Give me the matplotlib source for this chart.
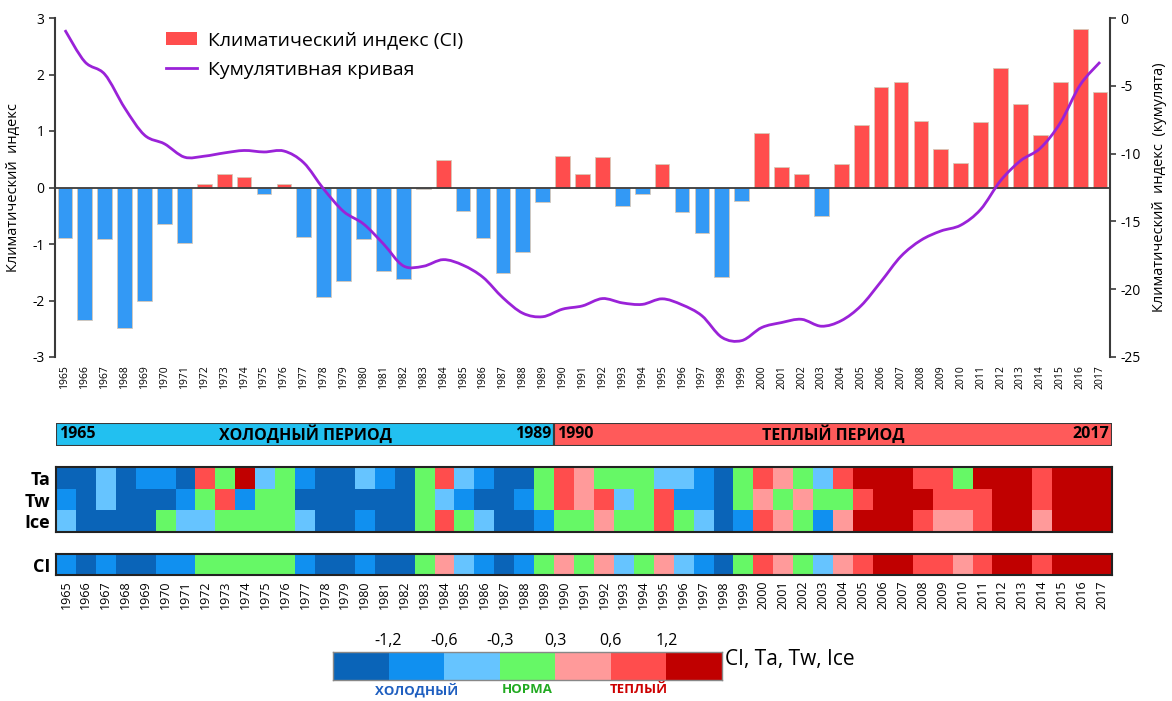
import matplotlib
matplotlib.use("Agg")
import matplotlib.pyplot as plt
import numpy as np
from matplotlib.colors import ListedColormap, BoundaryNorm
from matplotlib.lines import Line2D
from matplotlib.patches import Patch, PathPatch
from matplotlib.path import Path

plt.rcParams['font.family'] = ['Open Sans', 'DejaVu Sans']
plt.rcParams['axes.unicode_minus'] = False

years = list(range(1965, 2018))

# climate index per year
ci = [-0.89, -2.34, -0.92, -2.48, -2.01, -0.64, -0.98, 0.07, 0.24, 0.18,
      -0.11, 0.07, -0.87, -1.94, -1.65, -0.92, -1.47, -1.62, -0.03, 0.49,
      -0.41, -0.89, -1.51, -1.14, -0.26, 0.56, 0.24, 0.54, -0.32, -0.11,
      0.41, -0.44, -0.81, -1.59, -0.24, 0.96, 0.37, 0.24, -0.51, 0.41,
      1.11, 1.78, 1.86, 1.18, 0.68, 0.43, 1.16, 2.12, 1.47, 0.93,
      1.86, 2.80, 1.69]

# cumulative curve (right axis)
cumul = [-0.89, -3.23, -4.15, -6.63, -8.64, -9.28, -10.26, -10.19, -9.95, -9.77,
         -9.88, -9.81, -10.68, -12.62, -14.27, -15.19, -16.66, -18.28, -18.31, -17.82,
         -18.23, -19.12, -20.63, -21.77, -22.03, -21.47, -21.23, -20.69, -21.01, -21.12,
         -20.71, -21.15, -21.96, -23.55, -23.79, -22.83, -22.46, -22.22, -22.73, -22.32,
         -21.21, -19.43, -17.57, -16.39, -15.71, -15.28, -14.12, -12.00, -10.53, -9.60,
         -7.74, -4.94, -3.25]

# class per year: 0..2 cold, 3 normal, 4..6 warm
ta = [0, 0, 2, 0, 1, 1, 0, 5, 3, 6, 2, 3, 1, 0, 0, 2, 1,
      0, 3, 5, 2, 1, 0, 0, 3, 5, 4, 3, 3, 3, 2, 2, 1, 0, 3, 5, 4,
      3, 2, 5, 6, 6, 6, 5, 5, 3, 6, 6, 6, 5, 6, 6, 6]
tw = [1, 0, 2, 0, 0, 0, 1, 3, 5, 1, 3, 3, 0, 0, 0, 0, 0,
      0, 3, 2, 1, 0, 0, 1, 3, 5, 4, 5, 2, 3, 5, 1, 1, 0, 3, 4, 3,
      4, 3, 3, 5, 6, 6, 6, 5, 5, 5, 6, 6, 5, 6, 6, 6]
ice = [2, 0, 0, 0, 0, 3, 2, 2, 3, 3, 3, 3, 2, 0, 0, 1, 0,
       0, 3, 5, 3, 2, 0, 0, 1, 3, 3, 4, 3, 3, 5, 3, 2, 0, 1, 5, 4,
       3, 1, 4, 6, 6, 6, 5, 4, 4, 5, 6, 6, 4, 6, 6, 6]
ci_class = [1, 0, 1, 0, 0, 1, 1, 3, 3, 3, 3, 3, 1, 0, 0, 1, 0,
            0, 3, 4, 2, 1, 0, 1, 3, 4, 3, 4, 2, 3, 4, 2, 1, 0, 3, 5, 4,
            3, 2, 4, 5, 6, 6, 5, 5, 4, 5, 6, 6, 5, 6, 6, 6]

class_colors = ['#0A64B8', '#1090F0', '#66C4FF', '#66F866', '#FF9A9A', '#FF4D4D', '#C00000']
bound_labels = ['-1,2', '-0,6', '-0,3', '0,3', '0,6', '1,2']
class_names = [('ХОЛОДНЫЙ', 1.5, '#1F5FC0'), ('НОРМА', 3.5, '#22AA22'), ('ТЕПЛЫЙ', 5.5, '#CC0000')]

periods = [(1965, 1989, 'ХОЛОДНЫЙ ПЕРИОД', '#22C0F0'),
           (1990, 2017, 'ТЕПЛЫЙ ПЕРИОД', '#FF5A5A')]

RED = '#FF4D4D'
BLUE = '#3399F5'
PURPLE = '#9A22D8'
DARK = '#3a3a3a'

W, H = 1172, 701


def box(x0, y0, x1, y1):
    return [x0 / W, 1 - y1 / H, (x1 - x0) / W, (y1 - y0) / H]


def smooth_path(xs, ys):
    # Catmull-Rom through the points, written as cubic Bezier segments
    n = len(xs)
    verts = [(xs[0], ys[0])]
    codes = [Path.MOVETO]
    for i in range(n - 1):
        a = max(i - 1, 0)
        d = min(i + 2, n - 1)
        c1 = (xs[i] + (xs[i + 1] - xs[a]) / 6, ys[i] + (ys[i + 1] - ys[a]) / 6)
        c2 = (xs[i + 1] - (xs[d] - xs[i]) / 6, ys[i + 1] - (ys[d] - ys[i]) / 6)
        verts += [c1, c2, (xs[i + 1], ys[i + 1])]
        codes += [Path.CURVE4] * 3
    return Path(verts, codes)


x = np.arange(len(years))
cmap = ListedColormap(class_colors)
norm = BoundaryNorm(np.arange(-0.5, 7.5), cmap.N)

fig = plt.figure(figsize=(11.72, 7.01), dpi=100)

# --- bar chart with cumulative curve ---
ax = fig.add_axes(box(55, 18, 1110, 357))
ax.bar(x, ci, width=0.74, color=[RED if v >= 0 else BLUE for v in ci],
       edgecolor='#d8c8b8', linewidth=0.6)
ax.axhline(0, color=DARK, lw=1.3, zorder=3)
ax.set_xlim(-0.5, len(years) - 0.5)
ax.set_ylim(-3, 3)
ax.set_yticks(range(-3, 4))
ax.set_xticks(x)
ax.set_xticklabels(years, rotation=90, fontsize=7.5)
ax.tick_params(axis='x', length=0, pad=6)
ax.tick_params(axis='y', direction='out', length=4, width=1.2, color=DARK, labelsize=10)
for s in ['top', 'right', 'bottom']:
    ax.spines[s].set_visible(False)
ax.spines['left'].set_color(DARK)
ax.spines['left'].set_linewidth(1.5)
ax.set_ylabel('Климатический  индекс', fontsize=10.5, labelpad=8)

ax2 = ax.twinx()
ax2.set_ylim(-25, 0)
ax2.set_yticks(range(-25, 1, 5))
ax2.add_patch(PathPatch(smooth_path(x, cumul), fill=False, edgecolor=PURPLE, lw=2, zorder=4))
for s in ['top', 'left', 'bottom']:
    ax2.spines[s].set_visible(False)
ax2.spines['right'].set_color(DARK)
ax2.spines['right'].set_linewidth(1.5)
ax2.tick_params(axis='y', direction='out', length=4, width=1.2, color=DARK, labelsize=10)
ax2.set_ylabel('Климатический  индекс  (кумулята)', fontsize=10.5, labelpad=8)

fig.legend(handles=[Patch(facecolor=RED, edgecolor='none'),
                    Line2D([], [], color=PURPLE, lw=2)],
           labels=['Климатический индекс (CI)', 'Кумулятивная кривая'],
           loc='upper left', bbox_to_anchor=(148 / W, 1 - 14 / H), frameon=False,
           fontsize=14, handlelength=1.6, handleheight=0.7, labelspacing=0.6,
           handletextpad=0.6)

# --- period strip ---
px = fig.add_axes(box(56, 423, 1112, 446))
for start, end, name, col in periods:
    left = years.index(start) - 0.5
    width = end - start + 1
    px.barh(0, width, left=left, height=1, color=col, edgecolor=DARK, linewidth=1.5)
    px.text(left + 0.15, 0, str(start), ha='left', va='center', fontsize=11.5, fontweight='bold')
    px.text(left + width - 0.15, 0, str(end), ha='right', va='center', fontsize=11.5, fontweight='bold')
    px.text(left + width / 2, 0, name, ha='center', va='center', fontsize=11.5, fontweight='bold')
px.set_xlim(-0.5, len(years) - 0.5)
px.set_ylim(-0.5, 0.5)
px.axis('off')


def style_grid(a):
    for s in a.spines.values():
        s.set_color('#222222')
        s.set_linewidth(1.5)
    a.tick_params(axis='y', length=0, labelsize=13, pad=4)
    for t in a.get_yticklabels():
        t.set_fontweight('bold')


# --- Ta / Tw / Ice grid ---
hx = fig.add_axes(box(56, 467, 1112, 532))
hx.pcolormesh(np.arange(len(years) + 1) - 0.5, np.arange(4) - 0.5,
              np.array([ta, tw, ice]), cmap=cmap, norm=norm)
hx.set_ylim(2.5, -0.5)
hx.set_yticks([0, 1, 2])
hx.set_yticklabels(['Ta', 'Tw', 'Ice'])
hx.set_xticks([])
style_grid(hx)

# --- CI row ---
cx = fig.add_axes(box(56, 554, 1112, 575))
cx.pcolormesh(np.arange(len(years) + 1) - 0.5, [-0.5, 0.5],
              np.array([ci_class]), cmap=cmap, norm=norm)
cx.set_yticks([0])
cx.set_yticklabels(['CI'])
cx.set_xticks(x)
cx.set_xticklabels(years, rotation=90, fontsize=9)
cx.tick_params(axis='x', length=0, pad=4)
style_grid(cx)

# --- class legend ---
kx = fig.add_axes(box(333, 652, 722, 680))
kx.pcolormesh(np.arange(8), [0, 1], np.array([np.arange(7)]), cmap=cmap, norm=norm)
kx.set_xlim(0, 7)
kx.set_ylim(0, 1)
kx.set_yticks([])
kx.set_xticks(range(1, 7))
kx.set_xticklabels(bound_labels, fontsize=11.5)
kx.xaxis.tick_top()
kx.tick_params(axis='x', length=0, pad=2)
for s in kx.spines.values():
    s.set_color('#888888')
    s.set_linewidth(1)
kx.text(7.05, 0.75, 'CI, Ta, Tw, Ice', ha='left', va='center', fontsize=15)
for name, pos, col in class_names:
    kx.text(pos, -0.12, name, ha='center', va='top', fontsize=9.5,
            fontweight='bold', color=col)

fig.savefig('out.png', dpi=100)
